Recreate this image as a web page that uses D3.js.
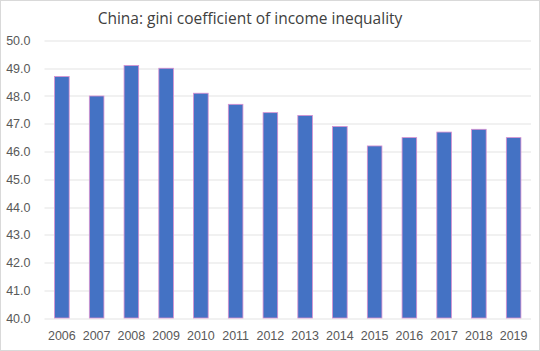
<!DOCTYPE html>
<html>
<head>
<meta charset="utf-8">
<script src="https://cdn.jsdelivr.net/npm/d3@7"></script>
<style>
  body { margin: 0; background: #fff; }
  svg { font-family: "Open Sans", "Noto Sans", sans-serif; }
  .axis text { fill: #595959; font-size: 12.5px; }
  .axis path, .axis line { display: none; }
  .grid line { stroke: #e3e3e3; stroke-width: 1; }
</style>
</head>
<body>
<svg class="gini" width="540" height="351"></svg>
<script>
const years = ["2006", "2007", "2008", "2009", "2010", "2011", "2012", "2013", "2014", "2015", "2016", "2017", "2018", "2019"];
const gini = [48.7, 48.0, 49.1, 49.0, 48.1, 47.7, 47.4, 47.3, 46.9, 46.2, 46.5, 46.7, 46.8, 46.5];
const yTicks = [40, 41, 42, 43, 44, 45, 46, 47, 48, 49, 50];

function drawGini() {
    const svg = d3.select("svg.gini");
    const margin = {
        top: 40.5,
        right: 9,
        bottom: 33,
        left: 44.5
    };
    const width = +svg.attr("width") - margin.left - margin.right;
    const height = +svg.attr("height") - margin.top - margin.bottom;

    const data = years.map((y, i) => ({year: y, value: gini[i]}));

    // outer frame
    svg.append("rect")
        .attr("x", 0.5).attr("y", 0.5)
        .attr("width", 539).attr("height", 350)
        .attr("fill", "#fff")
        .attr("stroke", "#d9d9d9");

    svg.append("text")
        .attr("x", 250)
        .attr("y", 24)
        .attr("text-anchor", "middle")
        .attr("fill", "#404040")
        .style("font-size", "15.5px")
        .text("China: gini coefficient of income inequality");

    const x = d3.scaleBand()
        .domain(years)
        .range([0, width])
        .paddingInner(0.58)
        .paddingOuter(0.29);

    const y = d3.scaleLinear()
        .domain([40, 50])
        .range([height, 0]);

    const g = svg.append("g")
        .attr("transform", `translate(${margin.left}, ${margin.top})`);

    g.append("g")
        .attr("class", "grid")
        .selectAll("line")
        .data(yTicks)
        .enter().append("line")
        .attr("x1", 0)
        .attr("x2", width)
        .attr("y1", d => Math.round(y(d)) + 0.5)
        .attr("y2", d => Math.round(y(d)) + 0.5);

    g.append("g")
        .attr("class", "y axis")
        .call(d3.axisLeft(y).tickValues(yTicks).tickFormat(d3.format(".1f")).tickSize(0).tickPadding(14));

    g.append("g")
        .attr("class", "x axis")
        .attr("transform", `translate(0, ${height})`)
        .call(d3.axisBottom(x).tickSize(0).tickPadding(13));

    g.selectAll(".bar")
        .data(data)
        .enter().append("rect")
        .attr("class", "bar")
        .attr("x", d => x(d.year))
        .attr("y", d => y(d.value))
        .attr("width", x.bandwidth())
        .attr("height", d => y(40) - y(d.value))
        .attr("fill", "#4472c4")
        .attr("stroke", "#d98fd0")
        .attr("stroke-width", 0.8);
}

drawGini();
</script>
</body>
</html>
